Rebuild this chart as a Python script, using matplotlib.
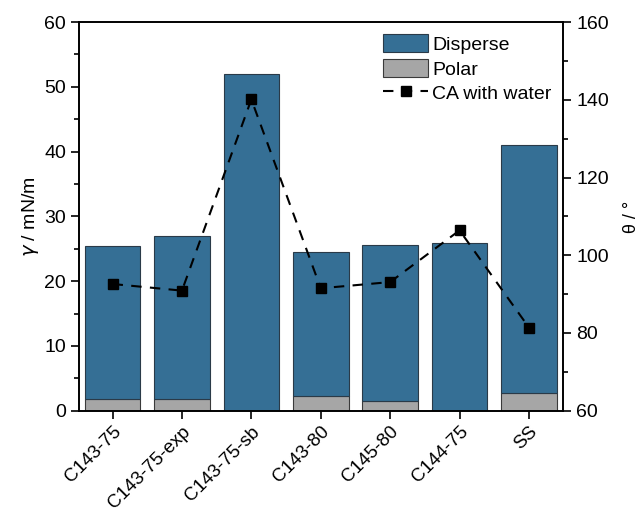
import matplotlib.pyplot as plt
import numpy as np
from matplotlib.ticker import MultipleLocator

plt.rcParams['font.family'] = ['Liberation Sans', 'DejaVu Sans']

samples = ['C143-75', 'C143-75-exp', 'C143-75-sb', 'C143-80', 'C145-80', 'C144-75', 'SS']
total = [25.4, 27.0, 52.0, 24.5, 25.6, 25.9, 41.1]
polar = [1.75, 1.85, 0.0, 2.25, 1.55, 0.0, 2.7]
contact_angle = [92.6, 90.9, 140.1, 91.5, 93.1, 106.4, 81.4]

disperse = [t - p for t, p in zip(total, polar)]

fig = plt.figure(figsize=(6.39, 5.14), dpi=100)
ax = fig.add_axes([0.124, 0.201, 0.757, 0.756])
ax2 = ax.twinx()

x = np.arange(len(samples))
ax.bar(x, polar, width=0.8, color='#a6a6a6', edgecolor='#3a3a3a', linewidth=0.8, label='Polar')
ax.bar(x, disperse, width=0.8, bottom=polar, color='#356f95', edgecolor='#2a3a48', linewidth=0.8, label='Disperse')
ax2.plot(x, contact_angle, 'k--', marker='s', markersize=7.5, dashes=(5, 4), label='CA with water')

ax.set_xlim(-0.48, 6.49)
ax.set_ylim(0, 60)
ax2.set_ylim(60, 160)
ax.yaxis.set_major_locator(MultipleLocator(10))
ax.yaxis.set_minor_locator(MultipleLocator(5))
ax2.yaxis.set_major_locator(MultipleLocator(20))
ax2.yaxis.set_minor_locator(MultipleLocator(10))

ax.set_xticks(x)
ax.set_xticklabels(samples, rotation=45, ha='right', rotation_mode='anchor')
for a in (ax, ax2):
    a.tick_params(axis='both', which='major', direction='out', length=6, width=1.2, labelsize=14)
    a.tick_params(axis='y', which='minor', direction='out', length=3.5, width=1.2)
    for s in a.spines.values():
        s.set_linewidth(1.2)
ax.tick_params(axis='x', pad=3, labelsize=13.5)

ax.set_ylabel(r'$\gamma$ / mN/m', fontsize=14, labelpad=2)
ax2.set_ylabel('θ / °', fontsize=13, labelpad=10)

h1, l1 = ax.get_legend_handles_labels()
h2, l2 = ax2.get_legend_handles_labels()
ax.legend([h1[1], h1[0], h2[0]], [l1[1], l1[0], l2[0]], loc='upper right', frameon=False,
          fontsize=14, handlelength=2.3, handleheight=1.1, handletextpad=0.2, labelspacing=0.25,
          borderaxespad=0.2)

fig.savefig('out.png', dpi=100)
